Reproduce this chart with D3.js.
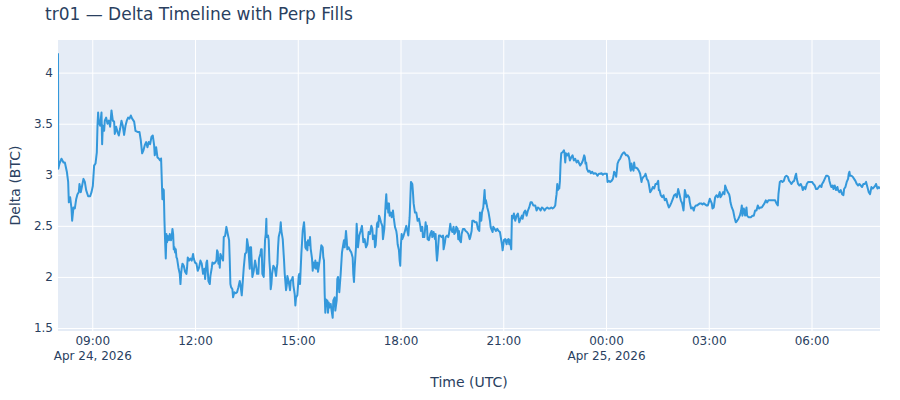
<!DOCTYPE html>
<html>
<head>
<meta charset="utf-8">
<script src="https://cdn.jsdelivr.net/npm/d3@7"></script>
<style>
  body { margin: 0; background: #fff; }
  svg { display: block; font-family: "DejaVu Sans", Verdana, sans-serif; }
</style>
</head>
<body>
<svg id="chart" width="900" height="400"></svg>
<script>
// ---------- DATA ----------
const chartTitle = "tr01 — Delta Timeline with Perp Fills";
const xAxisTitle = "Time (UTC)";
const yAxisTitle = "Delta (BTC)";
const seriesStart = "2026-04-24T08:00:00Z";

// [minutes since seriesStart, delta (BTC)]
const deltaSeries = [
  [0,4.19],[0.5,3.06],[2.6,3.11],[6.1,3.157],[9.6,3.12],[12,3.12],[15.5,3.03],[17.8,2.93],[19,2.73],[21.3,2.78],
  [23.6,2.67],[24.8,2.55],[27.1,2.68],[29.5,2.67],[31.8,2.76],[34.1,2.81],[36.5,2.83],[37.6,2.91],[40,2.83],[42.3,2.895],
  [44.6,2.96],[47,2.93],[49.3,2.85],[52.8,2.79],[56.3,2.79],[58.7,2.83],[61,2.89],[63.3,3.09],[65.7,3.11],[68,3.22],
  [69.2,3.48],[70.3,3.61],[71.5,3.52],[73.8,3.48],[76.2,3.61],[77.3,3.30],[78.5,3.48],[80.8,3.43],[82,3.53],[84.3,3.56],
  [86.7,3.50],[89,3.53],[91.3,3.47],[93.7,3.63],[96,3.53],[98.3,3.52],[99.5,3.40],[101.8,3.47],[104.2,3.42],[106.5,3.385],
  [108.8,3.45],[111.2,3.53],[113.5,3.48],[115.8,3.39],[118.2,3.48],[120.5,3.53],[122.8,3.56],[125.2,3.55],[127.5,3.58],[129.9,3.55],
  [133.4,3.52],[135.7,3.43],[139.2,3.42],[142.7,3.42],[145,3.34],[147.4,3.21],[149.7,3.24],[152,3.29],[154.4,3.32],[156.7,3.27],
  [159,3.32],[161.4,3.30],[163.7,3.37],[166,3.385],[168.4,3.29],[169.5,3.19],[171.9,3.27],[174.2,3.17],[176.5,3.16],[178.9,3.14],
  [180.6,3.16],[182.9,2.76],[184.1,2.86],[185.3,2.85],[186.5,2.55],[187.6,2.36],[188.8,2.18],[190,2.42],[191.1,2.34],[192.3,2.40],
  [194.6,2.36],[195.8,2.42],[197,2.37],[198.1,2.36],[199.3,2.40],[200.5,2.47],[201.7,2.42],[202.8,2.27],[204,2.29],[205.1,2.24],
  [206.3,2.27],[207.5,2.19],[208.6,2.18],[211,2.09],[213.3,2.03],[214.5,1.93],[215.6,2.03],[216.8,2.09],[218,2.13],[220.3,2.11],
  [222.6,2.05],[225,2.03],[226.1,2.09],[227.3,2.19],[229.6,2.16],[232,2.18],[234.3,2.16],[236.6,2.225],[237.8,2.18],[240.1,2.14],
  [242.5,2.13],[244.8,2.06],[247.1,2.09],[249.5,2.16],[251.8,2.13],[254.1,2.03],[256.5,2.08],[257.7,1.98],[260,2.14],[261.2,2.16],
  [263.5,1.96],[265.9,1.93],[267,2.01],[269.4,2.09],[270.5,2.14],[272.9,2.13],[275.2,2.14],[277.5,2.16],[278.7,2.26],[279.9,2.245],
  [281,2.13],[282.2,2.18],[283.4,2.09],[284.5,2.225],[286.9,2.19],[289.2,2.16],[290.4,2.39],[292.7,2.40],[295,2.49],[297.4,2.42],
  [299.7,2.36],[300.9,2.16],[302,1.93],[303.2,1.90],[305.5,1.88],[306.7,1.80],[309,1.85],[311.4,1.84],[313.7,1.85],[316,1.90],
  [318.4,1.96],[319.5,1.93],[321.9,1.82],[323,1.90],[325.4,2.09],[327.7,2.225],[330,2.24],[331.2,2.37],[333.5,2.29],[334.7,2.18],
  [335.9,2.08],[337,2.29],[338.2,2.29],[340.5,2.00],[342.9,2.06],[345.2,2.16],[347.5,2.09],[348.7,2.03],[351,2.03],[352.2,2.18],
  [354.5,2.225],[355.7,2.27],[356.9,2.27],[358,2.03],[360.4,2.00],[362.7,2.36],[363.9,2.42],[365,2.57],
  [365.6,2.39],[368,2.405],[369.1,2.36],[370.3,2.16],[371.5,2.06],[372.6,1.88],[373.8,1.93],[375,2.03],[377.3,2.11],[379.6,2.09],
  [382,2.01],[383.2,2.08],[384.3,2.13],[385.5,2.29],[386.6,2.39],[389,2.45],[390.2,2.535],[391.3,2.45],[393.7,2.37],[396,2.16],
  [397.2,2.03],[399.5,1.87],[400.7,1.915],[401.8,2.01],[404.2,1.95],[406.5,1.87],[407.7,1.96],[410,1.98],[411.2,2.00],[412.4,1.915],
  [414.7,1.83],[415.8,1.72],[417,1.80],[419.3,1.82],[421.7,2.01],[422.8,2.03],[424,1.93],[426.3,2.225],[428.7,2.45],[431,2.535],
  [432.2,2.44],[433.3,2.29],[434.5,2.275],[435.7,2.34],[436.8,2.26],[438,2.36],[440.4,2.31],[441.5,2.39],[442.7,2.275],[445,2.18],
  [446.2,2.06],[447.3,2.14],[449.7,2.09],[450.8,2.16],[452,2.08],[454.3,2.14],[455.5,2.05],[457.8,2.14],[459,2.19],[461.3,2.31],
  [463.7,2.29],[464.8,2.19],[466,2.16],[467.2,1.83],[468.3,1.65],[469.5,1.78],[470.7,1.735],[471.8,1.77],[473,1.65],[474.2,1.75],
  [475.3,1.70],[477.7,1.735],[478.8,1.69],[481.2,1.60],[482.3,1.77],[484.7,1.80],[485.8,1.67],[488.2,1.77],[489.3,1.98],[490.5,2.00],
  [492.8,1.85],[495.2,2.03],[497.5,2.24],[499.8,2.32],[501,2.36],[502.2,2.29],[503.3,2.36],[504.5,2.45],[505.7,2.37],[506.8,2.27],
  [509.2,2.29],[511.5,2.26],[513.8,2.24],[516.2,2.19],[517.3,2.03],[518.5,1.95],[519.7,2.09],[522,2.29],[523.2,2.52],[525.5,2.29],
  [527.8,2.405],[530.2,2.45],[532.5,2.50],[534.9,2.34],[537.2,2.37],[539.5,2.29],[541.9,2.32],[544.2,2.44],[546.5,2.42],
  [548.9,2.50],[550.6,2.47],[551.8,2.37],[554.1,2.405],[555.3,2.29],[556.5,2.31],[557.6,2.405],[558.8,2.52],[560,2.535],[561.1,2.49],
  [562.3,2.60],[563.5,2.585],[565.8,2.535],[568.1,2.50],[569.3,2.37],[571.6,2.47],[572.8,2.60],[574,2.72],[575.1,2.81],[576.3,2.67],
  [577.5,2.72],[578.6,2.63],[579.8,2.72],[581,2.60],[583.3,2.63],[584.5,2.585],[585.6,2.60],[586.8,2.65],[588,2.585],[590.3,2.49],
  [592.6,2.45],[593.8,2.405],[595,2.32],[597.3,2.26],[598.5,2.16],[599.6,2.11],[600.8,2.32],[602,2.42],[603.1,2.37],[605.5,2.405],
  [607.8,2.45],[610.2,2.50],[611.3,2.47],[613.7,2.405],[616,2.585],[617.2,2.765],[618.3,2.93],[620.7,2.91],[621.8,2.83],[623,2.72],
  [625.3,2.63],[627.7,2.63],[630,2.55],[632.3,2.57],[634.7,2.50],[635.8,2.45],[638.2,2.49],[639.3,2.39],[641.7,2.39],[642.8,2.45],
  [644,2.535],[645.2,2.47],[646.3,2.50],[647.5,2.37],[649.8,2.36],[652.2,2.42],[654.5,2.45],[655.7,2.39],[658,2.44],[660.4,2.37],
  [661.5,2.42],[662.7,2.26],[663.9,2.16],[665,2.225],[667.4,2.405],[669.7,2.405],[672,2.39],[674.4,2.405],[675.5,2.27],[677.9,2.34],
  [679,2.39],[681.4,2.405],[683.7,2.39],[684.9,2.42],[687.2,2.52],[688.4,2.47],[690.7,2.44],[693,2.49],[694.2,2.42],[696.6,2.44],
  [697.7,2.49],[700.1,2.47],[701.2,2.37],[702.4,2.45],[703.6,2.36],[705.9,2.34],[707.1,2.42],[709.4,2.47],[711.7,2.47],[714.1,2.45],
  [716.4,2.44],[718.8,2.42],[721.1,2.37],[722.3,2.39],[724.6,2.45],[725.8,2.55],[728.1,2.55],[730.5,2.535],
  [733.3,2.535],[735.6,2.47],[738,2.45],[739.2,2.63],[741.5,2.55],[742.7,2.63],[745,2.68],[747.3,2.85],[748.5,2.72],[749.7,2.75],
  [752,2.68],[754.3,2.63],[756.7,2.55],[757.9,2.49],[759,2.47],[761.4,2.44],[762.5,2.49],[764.9,2.47],[767.2,2.45],[769.5,2.47],
  [771.9,2.45],[774.2,2.44],[776.5,2.36],[777.7,2.32],[778.9,2.26],[781.2,2.36],[783.5,2.37],[785.9,2.32],[787,2.36],[789.4,2.37],
  [790.5,2.32],[791.7,2.36],[794,2.27],[795.2,2.60],[796.4,2.57],[798.7,2.62],[801,2.55],[803.4,2.60],[805.7,2.62],[808,2.535],
  [810.4,2.57],[812.7,2.60],[813.9,2.57],[816.2,2.63],[818.5,2.65],[820.9,2.60],[823.2,2.65],[825.5,2.68],[827.9,2.73],[830.2,2.73],
  [832.6,2.70],[836.1,2.70],[838.4,2.65],[840.7,2.68],[843.1,2.67],[845.4,2.65],[847.7,2.68],[850.1,2.67],[852.4,2.65],[854.8,2.67],
  [857.1,2.68],[859.4,2.67],[861.8,2.67],[864.1,2.68],[866.4,2.67],[868.8,2.68],[871.1,2.70],[872.3,2.765],[873.4,2.81],[874.6,2.91],
  [875.8,2.85],[876.9,2.88],[878.1,2.865],[879.3,2.94],[880.4,3.11],[881.6,3.21],[883.9,3.22],[886.3,3.24],[887.4,3.21],[888.6,3.12],
  [889.8,3.21],[892.1,3.19],[894.4,3.21],[896.8,3.14],[899.1,3.17],[901.4,3.19],[903.8,3.14],[906.1,3.157],[908.5,3.12],[910.8,3.14],
  [913.1,3.11],
  [914.8,3.09],[917.1,3.11],[919.5,3.14],[921.8,3.19],[923,3.17],[924.1,3.11],[925.3,3.12],[926.5,3.06],[928.8,3.03],[931.1,3.04],
  [933.5,3.015],[935.8,3.03],[938.1,3.01],[940.5,3.015],[942.8,3.01],[945.1,2.99],[947.5,3.01],[949.8,3.01],[952.1,3.015],[954.5,3.00],
  [956.8,3.01],[959.2,3.01],[961.5,3.01],[962.7,2.93],[965,2.94],[967.3,2.93],[969.7,2.94],[972,2.96],[973.2,2.99],[974.3,3.03],
  [976.7,3.01],[977.8,2.98],[979,3.04],[980.2,3.11],[982.5,3.14],[984.8,3.157],[987.2,3.19],[989.5,3.21],[991.8,3.22],[993,3.21],
  [995.4,3.19],[997.7,3.19],[1000,3.17],[1001.2,3.14],[1002.3,3.07],[1003.5,3.04],[1004.7,3.11],[1005.8,3.07],[1008.2,3.04],[1009.3,3.12],
  [1010.5,3.07],[1012.8,3.07],[1015.2,3.06],[1017.5,3.04],[1019.8,3.01],[1022.2,2.93],[1023.3,2.96],[1025.7,2.98],[1028,2.99],[1029.2,3.01],
  [1030.3,2.99],[1031.5,2.96],[1033.8,2.94],[1035,2.91],[1037.4,2.83],[1039.7,2.85],[1042,2.88],[1044.4,2.865],[1046.7,2.91],[1049,2.91],
  [1051.4,2.94],[1052.5,2.85],[1053.7,2.85],[1056,2.80],[1058.4,2.78],[1060.7,2.80],[1063,2.75],[1065.4,2.765],[1067.7,2.72],[1070.1,2.68],
  [1072.4,2.70],[1074.7,2.73],[1077.1,2.765],[1079.4,2.80],[1081.7,2.81],[1084.1,2.78],[1086.4,2.86],[1088.7,2.81],[1091.1,2.75],[1093.4,2.72],
  [1095.8,2.65],[1098.1,2.85],
  [1101,2.78],[1103.3,2.80],[1105.6,2.78],[1106.8,2.73],[1109.1,2.67],[1111.5,2.68],[1113.8,2.65],[1115,2.68],[1117.3,2.70],[1119.6,2.70],
  [1122,2.71],[1124.3,2.72],[1126.6,2.72],[1129,2.71],[1131.3,2.72],[1133.6,2.71],[1136,2.70],[1138.3,2.70],[1139.5,2.72],[1141.8,2.765],
  [1143,2.75],[1145.3,2.72],[1146.5,2.67],[1148.8,2.68],[1151.2,2.78],[1153.5,2.80],[1155.8,2.78],[1158.2,2.81],[1159.3,2.83],[1160.5,2.78],
  [1162.8,2.80],[1165.2,2.83],[1167.5,2.81],[1168.7,2.895],[1171,2.86],[1173.3,2.83],[1175.7,2.81],[1176.9,2.78],[1178,2.73],[1180.4,2.68],
  [1182.7,2.65],[1185,2.585],[1187.4,2.535],[1189.7,2.55],[1192,2.57],[1194.4,2.60],[1196.7,2.65],[1197.9,2.70],[1199,2.60],[1201.4,2.67],
  [1203.7,2.60],[1206.1,2.68],[1207.2,2.60],[1209.6,2.585],[1211.9,2.585],[1214.2,2.585],[1216.6,2.60],[1218.9,2.60],[1221.2,2.65],[1223.6,2.65],
  [1225.9,2.70],[1228.3,2.67],[1230.6,2.68],[1232.9,2.68],[1235.3,2.70],[1237.6,2.72],[1239.9,2.75],[1242.3,2.73],[1244.6,2.75],[1246.9,2.75],
  [1249.3,2.75],[1251.6,2.75],[1254,2.75],[1256.3,2.75],[1258.6,2.72],[1261,2.70],[1262.1,2.81],[1264.5,2.93],[1266.8,2.94],[1269.1,2.93],
  [1271.5,2.94],[1273.8,2.98],[1276.1,2.99],[1278.5,2.98],[1280.8,2.94],
  [1282.5,2.93],[1284.8,2.91],[1287.1,2.93],[1289.5,2.94],[1291.8,2.99],[1293,3.01],[1294.2,2.96],[1296.5,2.91],[1298.8,2.895],[1301.2,2.91],
  [1303.5,2.88],[1304.7,2.85],[1307,2.88],[1309.3,2.86],[1311.7,2.91],[1314,2.93],[1316.3,2.93],[1318.7,2.93],[1321,2.93],[1323.4,2.91],
  [1325.7,2.895],[1328,2.86],[1330.4,2.86],[1332.7,2.88],[1335,2.895],[1337.4,2.88],[1338.5,2.91],[1340.9,2.93],[1343.2,2.96],[1345.6,2.99],
  [1347.9,2.99],[1350.2,2.98],[1351.4,2.94],[1353.7,2.895],[1354.9,2.88],[1357.2,2.895],[1358.4,2.86],[1360.7,2.895],[1363.1,2.85],[1365.4,2.88],
  [1366.6,2.85],[1368.9,2.83],[1371.2,2.85],[1373.6,2.81],[1375.9,2.80],[1377.1,2.86],[1379.4,2.88],[1381.7,2.93],[1384.1,2.96],[1385.2,3.01],
  [1386.4,3.03],[1387.6,2.99],[1389.9,2.99],[1392.2,2.98],[1394.6,2.96],[1396.9,2.94],[1399.3,2.91],[1401.6,2.895],[1403.9,2.91],[1406.3,2.895],
  [1408.6,2.88],[1410.9,2.91],[1413.3,2.91],[1415.6,2.93],[1417.9,2.88],[1420.3,2.83],[1422.6,2.81],[1425,2.88],[1427.3,2.865],[1429.6,2.88],
  [1432,2.895],[1433.1,2.91],[1435.5,2.865],[1437.8,2.88],[1440,2.865]
];

const yTickValues = [1.5, 2, 2.5, 3, 3.5, 4];
const xTickTimes = [
  "2026-04-24T09:00:00Z", "2026-04-24T12:00:00Z", "2026-04-24T15:00:00Z", "2026-04-24T18:00:00Z",
  "2026-04-24T21:00:00Z", "2026-04-25T00:00:00Z", "2026-04-25T03:00:00Z", "2026-04-25T06:00:00Z"
];

// ---------- CHART ----------
const W = 900, H = 400;
const m = { l: 58, r: 20, t: 40, b: 69 };
const textColor = "#2a3f5f";
const lineColor = "#3498db";

const svg = d3.select("#chart");
const t0 = new Date(seriesStart);
const data = deltaSeries.map(([min, v]) => ({ t: new Date(t0.getTime() + min * 60000), v }));

const x = d3.scaleUtc().domain(d3.extent(data, d => d.t)).range([m.l, W - m.r]);
const [lo, hi] = d3.extent(data, d => d.v);
const pad = (hi - lo) * 0.05;
const y = d3.scaleLinear().domain([lo - pad, hi + pad]).range([H - m.b, m.t]);

const plotW = W - m.l - m.r, plotH = H - m.t - m.b;

svg.append("rect")
  .attr("x", m.l).attr("y", m.t).attr("width", plotW).attr("height", plotH)
  .attr("fill", "#E5ECF6");

const xTicks = xTickTimes.map(s => new Date(s));

// grid lines
svg.append("g")
  .attr("transform", `translate(0,${H - m.b})`)
  .call(d3.axisBottom(x).tickValues(xTicks).tickSize(-plotH).tickFormat(""))
  .call(g => g.select(".domain").remove())
  .call(g => g.selectAll("line").attr("stroke", "#fff").attr("stroke-width", 1));

svg.append("g")
  .attr("transform", `translate(${m.l},0)`)
  .call(d3.axisLeft(y).tickValues(yTickValues).tickSize(-plotW).tickFormat(""))
  .call(g => g.select(".domain").remove())
  .call(g => g.selectAll("line").attr("stroke", "#fff").attr("stroke-width", 1));

// clip
svg.append("clipPath").attr("id", "plotClip")
  .append("rect").attr("x", m.l).attr("y", m.t).attr("width", plotW).attr("height", plotH);

// line
const line = d3.line().x(d => x(d.t)).y(d => y(d.v));
svg.append("path")
  .datum(data)
  .attr("clip-path", "url(#plotClip)")
  .attr("fill", "none")
  .attr("stroke", lineColor)
  .attr("stroke-width", 2)
  .attr("stroke-linejoin", "round")
  .attr("d", line);

// y tick labels
svg.append("g")
  .attr("transform", `translate(${m.l},0)`)
  .call(d3.axisLeft(y).tickValues(yTickValues).tickSize(0).tickPadding(5).tickFormat(d => String(d)))
  .call(g => g.select(".domain").remove())
  .call(g => g.selectAll("text").attr("fill", textColor).attr("font-size", 12)
    .attr("font-family", '"DejaVu Sans", Verdana, sans-serif'));

// x tick labels
const timeFmt = d3.utcFormat("%H:%M");
const dateFmt = d3.utcFormat("%b %-d, %Y");
const xLab = svg.append("g")
  .attr("transform", `translate(0,${H - m.b})`)
  .call(d3.axisBottom(x).tickValues(xTicks).tickSize(0).tickPadding(5).tickFormat(timeFmt))
  .call(g => g.select(".domain").remove());
xLab.selectAll("text")
  .attr("fill", textColor).attr("font-size", 12)
  .attr("font-family", '"DejaVu Sans", Verdana, sans-serif')
  .each(function (d, i) {
    const prev = i > 0 ? xTicks[i - 1] : null;
    if (i === 0 || d.getUTCDate() !== prev.getUTCDate()) {
      d3.select(this).append("tspan").attr("x", 0).attr("dy", "1.3em").text(dateFmt(d));
    }
  });

// titles
svg.append("text")
  .attr("x", 45).attr("y", 20)
  .attr("fill", textColor).attr("font-size", 17)
  .text(chartTitle);

svg.append("text")
  .attr("x", m.l + plotW / 2).attr("y", 387)
  .attr("text-anchor", "middle")
  .attr("fill", textColor).attr("font-size", 14)
  .text(xAxisTitle);

svg.append("text")
  .attr("transform", `translate(19.5,${m.t + plotH / 2}) rotate(-90)`)
  .attr("text-anchor", "middle")
  .attr("fill", textColor).attr("font-size", 14)
  .text(yAxisTitle);
</script>
</body>
</html>
